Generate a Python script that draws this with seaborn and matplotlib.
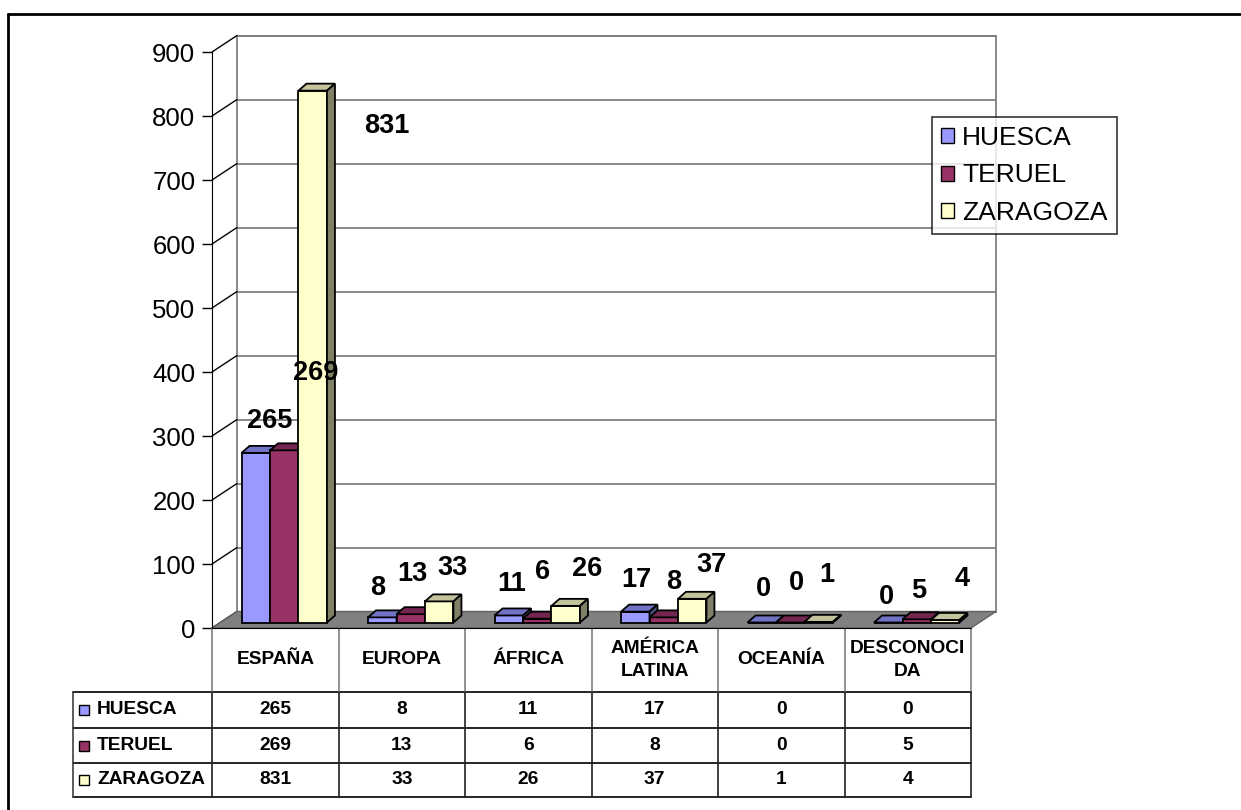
import matplotlib
matplotlib.use("Agg")
import matplotlib.pyplot as plt
import matplotlib.patches as mpatches
from matplotlib.lines import Line2D
import pandas as pd
import seaborn as sns

# --- data ---
REGIONS = ["ESPAÑA", "EUROPA", "ÁFRICA", "AMÉRICA LATINA", "OCEANÍA", "DESCONOCIDA"]
HEADER_LABELS = ["ESPAÑA", "EUROPA", "ÁFRICA", "AMÉRICA\nLATINA", "OCEANÍA", "DESCONOCI\nDA"]
PROVINCES = ["HUESCA", "TERUEL", "ZARAGOZA"]
HUESCA = [265, 8, 11, 17, 0, 0]
TERUEL = [269, 13, 6, 8, 0, 5]
ZARAGOZA = [831, 33, 26, 37, 1, 4]
YTICKS = list(range(0, 1000, 100))

# --- styling ---
FRONT = ["#9999FF", "#993366", "#FFFFCC"]
TOP = ["#7373C6", "#732650", "#C4C49C"]
SIDE = ["#4D4D80", "#4D1933", "#808066"]

W, H = 1241, 810
AX_L, AX_R, AX_TOP, AX_BOT = 212, 971, 52, 628
WALL_D = (25, 16.5)      # depth of the 3d box, px
BAR_SHIFT = (9, 5.5)     # bars sit a bit behind the front plane, px
BAR_D = (8, 7)           # depth of each bar, px
TABLE_LEFT = 73
ROW_EDGES = [628, 692, 728, 763, 797]

# label offsets from top-centre of each bar, px (excel's odd placement)
LABEL_NUDGE = [
    [(14, 32), (-5, 29), (3, 31), (1, 32), (2, 33), (-2, 26)],
    [(31, 77), (2, 40), (5, 47), (10, 35), (6, 39), (2, 28)],
    [(74, -35), (13, 33), (21, 37), (19, 34), (8, 47), (17, 41)],
]

sns.set_style("white")
plt.rcParams["font.family"] = ["Liberation Sans", "DejaVu Sans"]
plt.rcParams.update({"text.color": "black", "axes.labelcolor": "black",
                     "xtick.color": "black", "ytick.color": "black"})

df = pd.DataFrame({
    "region": REGIONS * 3,
    "provincia": [p for p in PROVINCES for _ in REGIONS],
    "count": HUESCA + TERUEL + ZARAGOZA,
})

fig = plt.figure(figsize=(W / 100, H / 100), dpi=100)
ax = fig.add_axes([AX_L / W, 1 - AX_BOT / H, (AX_R - AX_L) / W, (AX_BOT - AX_TOP) / H])
ax.patch.set_visible(False)

PX_X = (AX_R - AX_L) / len(REGIONS)
PX_Y = (AX_BOT - AX_TOP) / YTICKS[-1]


def dx(p):
    return p / PX_X


def dy(p):
    return p / PX_Y


def xpx(p):
    return -0.5 + (p - AX_L) / PX_X


def ypx(p):
    return (AX_BOT - p) / PX_Y


sns.barplot(data=df, x="region", y="count", hue="provincia", order=REGIONS,
            hue_order=PROVINCES, palette=FRONT, saturation=1, width=0.675,
            edgecolor="black", linewidth=1.3, legend=False, ax=ax)

x0, x1 = -0.5, len(REGIONS) - 0.5
wx, wy = dx(WALL_D[0]), dy(WALL_D[1])
ax.set_xlim(x0, x1)
ax.set_ylim(0, YTICKS[-1])

# back wall, left wall lines, floor
ax.add_patch(mpatches.Rectangle((x0 + wx, wy), x1 - x0, YTICKS[-1], facecolor="white",
                                edgecolor="#808080", lw=1.3, zorder=0.1, clip_on=False))
for v in YTICKS:
    ax.plot([x0 + wx, x1 + wx], [v + wy, v + wy], color="#808080", lw=1.3,
            zorder=0.2, clip_on=False)
    ax.plot([x0, x0 + wx], [v, v + wy], color="black", lw=1, zorder=0.2, clip_on=False)
ax.add_patch(mpatches.Polygon([(x0, 0), (x1, 0), (x1 + wx, wy), (x0 + wx, wy)],
                              closed=True, facecolor="#808080", edgecolor="#606060",
                              lw=1, zorder=0.5, clip_on=False))

# 3d bars
bsx, bsy = dx(BAR_SHIFT[0]), dy(BAR_SHIFT[1])
bdx, bdy = dx(BAR_D[0]), dy(BAR_D[1])
for j, cont in enumerate(ax.containers):
    for i, bar in enumerate(cont.patches):
        z = 2 + i * 3 + j
        bar.set_x(bar.get_x() + bsx)
        bar.set_y(bsy)
        bar.set_zorder(z)
        bx0 = bar.get_x()
        bx1 = bx0 + bar.get_width()
        top = bsy + bar.get_height()
        ax.add_patch(mpatches.Polygon(
            [(bx0, top), (bx1, top), (bx1 + bdx, top + bdy), (bx0 + bdx, top + bdy)],
            closed=True, facecolor=TOP[j], edgecolor="black", lw=1.3, zorder=z,
            clip_on=False))
        ax.add_patch(mpatches.Polygon(
            [(bx1, bsy), (bx1 + bdx, bsy + bdy), (bx1 + bdx, top + bdy), (bx1, top)],
            closed=True, facecolor=SIDE[j], edgecolor="black", lw=1.3, zorder=z,
            clip_on=False))
        nx, ny = LABEL_NUDGE[j][i]
        ax.text((bx0 + bx1) / 2 + dx(nx), top + dy(ny), f"{bar.get_height():.0f}",
                ha="center", va="center", fontsize=19.5, fontweight="bold", zorder=40,
                clip_on=False)

# axes cosmetics
for s in ["top", "right"]:
    ax.spines[s].set_visible(False)
ax.spines["left"].set_color("black")
ax.spines["bottom"].set_color("black")
ax.spines["left"].set_zorder(30)
ax.spines["bottom"].set_zorder(30)
ax.set_yticks(YTICKS)
ax.tick_params(axis="y", length=7, width=1, pad=5, labelsize=18.5, left=True)
ax.tick_params(axis="x", bottom=False, labelbottom=False)
ax.set_xlabel("")
ax.set_ylabel("")

# data table under the plot
tl = xpx(TABLE_LEFT)
ys = [ypx(p) for p in ROW_EDGES]
bounds = [x0 + k for k in range(len(REGIONS) + 1)]
for yv in ys[1:]:
    ax.plot([tl, x1], [yv, yv], color="black", lw=1.2, clip_on=False, zorder=30)
ax.plot([tl, tl], [ys[1], ys[-1]], color="#404040", lw=1.2, clip_on=False, zorder=30)
for b in bounds:
    ax.plot([b, b], [ys[0], ys[1]], color="#808080", lw=1.2, clip_on=False, zorder=30)
    ax.plot([b, b], [ys[1], ys[-1]], color="#202020", lw=1.2, clip_on=False, zorder=30)
for i, lab in enumerate(HEADER_LABELS):
    ax.text(i, (ys[0] + ys[1]) / 2, lab, ha="center", va="center", fontsize=13.8,
            fontweight="bold", linespacing=1.4, clip_on=False)
for j, (name, vals) in enumerate(zip(PROVINCES, [HUESCA, TERUEL, ZARAGOZA])):
    yc = (ys[j + 1] + ys[j + 2]) / 2
    ax.add_patch(mpatches.Rectangle((xpx(79), yc - dy(5)), dx(10), dy(10),
                                    facecolor=FRONT[j], edgecolor="black", lw=1,
                                    clip_on=False, zorder=30))
    ax.text(xpx(97), yc, name, ha="left", va="center", fontsize=13.8,
            fontweight="bold", clip_on=False)
    for i, v in enumerate(vals):
        ax.text(i, yc, str(v), ha="center", va="center", fontsize=13.8,
                fontweight="bold", clip_on=False)

# legend
handles = [mpatches.Patch(facecolor=c, edgecolor="black", lw=1) for c in FRONT]
leg = ax.legend(handles, PROVINCES, loc="upper left",
                bbox_to_anchor=(932 / W, 1 - 117 / H), bbox_transform=fig.transFigure,
                borderaxespad=0, fontsize=19, frameon=True, fancybox=False,
                edgecolor="black", borderpad=0.35, handlelength=0.5, handleheight=0.5,
                handletextpad=0.3, labelspacing=0.5)
leg.get_frame().set_linewidth(1.2)
leg.set_zorder(50)

# chart area border (only top/left visible in the crop)
fig.add_artist(Line2D([8 / W, 1], [1 - 14 / H, 1 - 14 / H], color="black", lw=2,
                      transform=fig.transFigure))
fig.add_artist(Line2D([8 / W, 8 / W], [0, 1 - 14 / H], color="black", lw=2,
                      transform=fig.transFigure))

fig.savefig("out.png", dpi=100)
